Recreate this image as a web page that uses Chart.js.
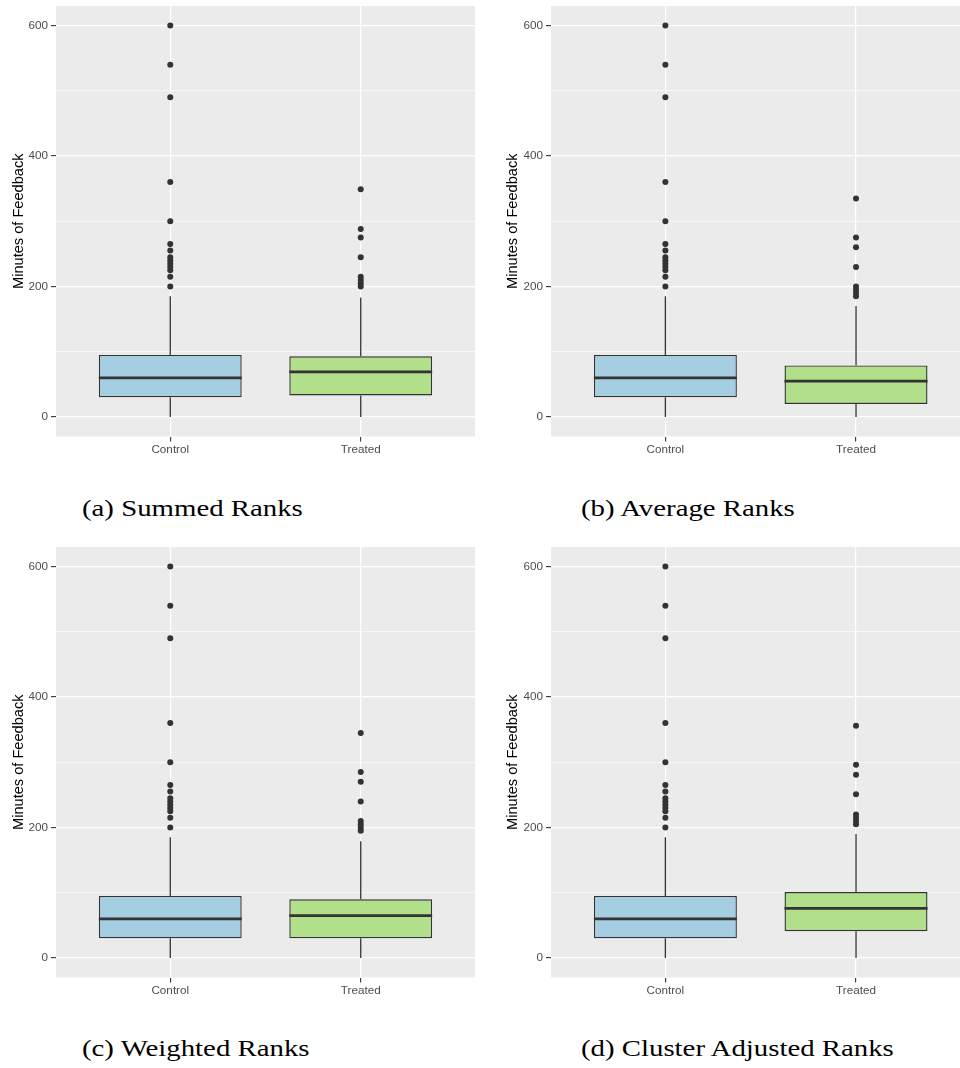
<!DOCTYPE html>
<html><head><meta charset="utf-8">
<script src="https://cdn.jsdelivr.net/npm/chart.js@4"></script>
<style>
html,body{margin:0;padding:0;background:#fff;width:960px;height:1068px;overflow:hidden;position:relative}
.panel{position:absolute;overflow:hidden;height:460px}
.cap{position:absolute;font-family:"Liberation Serif",serif;font-size:24px;line-height:24px;white-space:nowrap;color:#000;transform-origin:0 50%;transform:scaleX(1.2)}
</style></head><body>
<div class="panel" style="left:0;top:0;width:480px"><canvas id="ca" width="480" height="460"></canvas></div>
<div class="panel" style="left:480px;top:0;width:480px"><canvas id="cb" width="500" height="460"></canvas></div>
<div class="panel" style="left:0;top:541px;width:480px"><canvas id="cc" width="480" height="460"></canvas></div>
<div class="panel" style="left:480px;top:541px;width:480px"><canvas id="cd" width="500" height="460"></canvas></div>
<div class="cap" style="left:82px;top:496px">(a) Summed Ranks</div>
<div class="cap" style="left:581px;top:496px">(b) Average Ranks</div>
<div class="cap" style="left:82px;top:1036px">(c) Weighted Ranks</div>
<div class="cap" style="left:581px;top:1036px">(d) Cluster Adjusted Ranks</div>
<script>
// ---- data ----
const categories = ['Control', 'Treated'];
const yTickValues = [0, 100, 200, 300, 400, 500, 600];
const yLabelValues = [0, 200, 400, 600];
// box stats: [lower whisker, Q1, median, Q3, upper whisker]
const summedControl = [0, 30, 60, 95, 185];
const summedTreated = [0, 33, 69, 93, 183];
const summedControlOutliers = [200, 215, 225, 230, 235, 240, 245, 255, 265, 300, 360, 490, 540, 600];
const summedTreatedOutliers = [200, 205, 210, 215, 245, 275, 288, 349];

const averageControl = [0, 30, 60, 95, 185];
const averageTreated = [0, 20, 55, 79, 170];
const averageControlOutliers = [200, 215, 225, 230, 235, 240, 245, 255, 265, 300, 360, 490, 540, 600];
const averageTreatedOutliers = [185, 190, 195, 200, 230, 260, 275, 335];

const weightedControl = [0, 30, 60, 95, 185];
const weightedTreated = [0, 30, 65, 90, 179];
const weightedControlOutliers = [200, 215, 225, 230, 235, 240, 245, 255, 265, 300, 360, 490, 540, 600];
const weightedTreatedOutliers = [195, 200, 205, 210, 240, 270, 285, 345];

const clusterControl = [0, 30, 60, 95, 185];
const clusterTreated = [0, 41, 76, 101, 190];
const clusterControlOutliers = [200, 215, 225, 230, 235, 240, 245, 255, 265, 300, 360, 490, 540, 600];
const clusterTreatedOutliers = [205, 210, 215, 220, 251, 281, 296, 356];

// ---- styling ----
const FILLS = ['#A6CEE3', '#B2DF8A'];
const INK = '#333333';
const BOX_WIDTH = 0.75; // in category units (ggplot default)

const panelBg = {
  id: 'panelBg',
  beforeDraw(chart) {
    const {ctx, chartArea: a} = chart;
    ctx.save();
    ctx.fillStyle = '#EBEBEB';
    ctx.fillRect(a.left, a.top, a.width, a.height);
    ctx.restore();
  }
};

function buildDatasets(stats, outliers) {
  const ds = [];
  stats.forEach((s, i) => {
    const x = i + 1;
    ds.push({type: 'line', data: [{x, y: s[0]}, {x, y: s[1]}], borderColor: INK, borderWidth: 1.3,
      pointRadius: 0, pointHoverRadius: 0, fill: false, tension: 0, order: 6});
    ds.push({type: 'line', data: [{x, y: s[3]}, {x, y: s[4]}], borderColor: INK, borderWidth: 1.3,
      pointRadius: 0, pointHoverRadius: 0, fill: false, tension: 0, order: 6});
  });
  ds.push({type: 'bar', data: stats.map((s, i) => ({x: i + 1, y: [s[1], s[3]]})),
    backgroundColor: FILLS, borderColor: INK, borderWidth: 1.4, borderSkipped: false,
    grouped: false, barPercentage: BOX_WIDTH, categoryPercentage: 1, order: 4});
  stats.forEach((s, i) => {
    const x = i + 1;
    ds.push({type: 'line', data: [{x: x - BOX_WIDTH / 2, y: s[2]}, {x: x + BOX_WIDTH / 2, y: s[2]}],
      borderColor: INK, borderWidth: 2.7, pointRadius: 0, pointHoverRadius: 0, fill: false, tension: 0, order: 3});
  });
  outliers.forEach((arr, i) => {
    ds.push({type: 'scatter', data: arr.map(v => ({x: i + 1, y: v})), pointRadius: 3,
      pointBackgroundColor: INK, backgroundColor: INK, pointBorderWidth: 0, borderWidth: 0, order: 1});
  });
  return ds;
}

function makeChart(id, stats, outliers, axisWidth, titlePad, padRight) {
  return new Chart(document.getElementById(id), {
    type: 'bar',
    data: {datasets: buildDatasets(stats, outliers)},
    options: {
      responsive: false, animation: false,
      layout: {padding: {top: 6, right: padRight, left: 0, bottom: 0}},
      plugins: {legend: {display: false}, tooltip: {enabled: false}},
      scales: {
        x: {
          type: 'linear', min: 0.4, max: 2.6, offset: false,
          afterBuildTicks: s => { s.ticks = categories.map((c, i) => ({value: i + 1})); },
          afterFit: s => { s.height = 23.5; s.paddingLeft = 0; s.paddingRight = 0; },
          ticks: {callback: v => categories[v - 1], color: '#4D4D4D', padding: 1,
            font: {family: 'Liberation Sans', size: 11.7}, maxRotation: 0, autoSkip: false},
          grid: {color: '#FFFFFF', lineWidth: 1.2, tickColor: INK, tickLength: 5, tickWidth: 1.1, offset: false},
          border: {display: false}
        },
        y: {
          type: 'linear', min: -30, max: 630,
          afterBuildTicks: s => { s.ticks = yTickValues.map(v => ({value: v})); },
          afterFit: s => { s.width = axisWidth; s.paddingTop = 0; s.paddingBottom = 0; },
          ticks: {callback: v => yLabelValues.includes(v) ? String(v) : '', color: '#4D4D4D', padding: 3,
            font: {family: 'Liberation Sans', size: 11.7}, autoSkip: false},
          grid: {
            color: '#FFFFFF',
            lineWidth: c => yLabelValues.includes(c.tick.value) ? 1.2 : 0.6,
            tickColor: c => yLabelValues.includes(c.tick.value) ? INK : 'rgba(0,0,0,0)',
            tickLength: 5, tickWidth: 1.1
          },
          border: {display: false},
          title: {display: true, text: 'Minutes of Feedback', color: '#000000',
            font: {family: 'Liberation Sans', size: 14.6}, padding: {top: titlePad, bottom: 0}}
        }
      }
    },
    plugins: [panelBg]
  });
}

makeChart('ca', [summedControl, summedTreated], [summedControlOutliers, summedTreatedOutliers], 56, 10, 5);
makeChart('cb', [averageControl, averageTreated], [averageControlOutliers, averageTreatedOutliers], 71, 24, 9.6);
makeChart('cc', [weightedControl, weightedTreated], [weightedControlOutliers, weightedTreatedOutliers], 56, 10, 5);
makeChart('cd', [clusterControl, clusterTreated], [clusterControlOutliers, clusterTreatedOutliers], 71, 24, 9.6);
</script>
</body></html>
